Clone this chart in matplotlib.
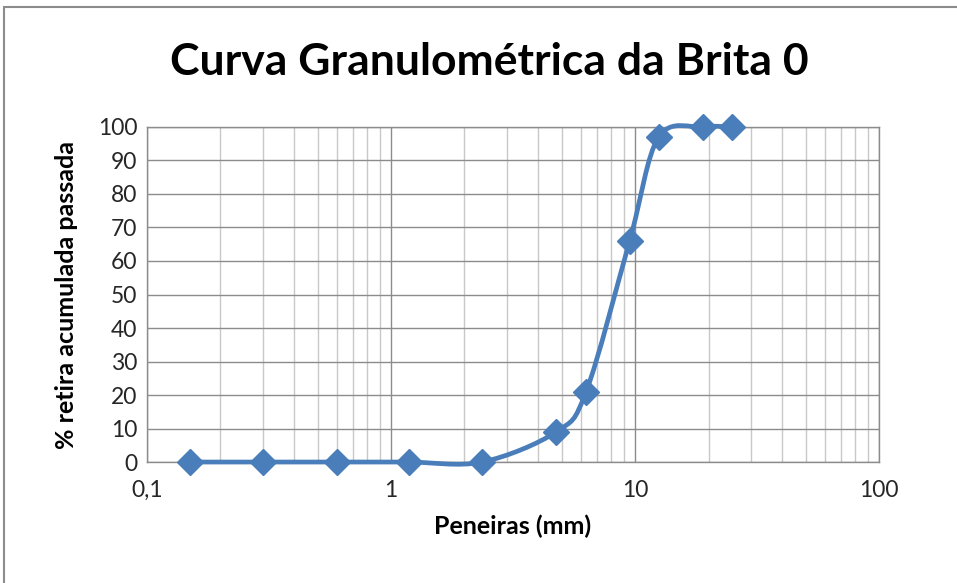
import numpy as np
import matplotlib
matplotlib.use("Agg")
import matplotlib.pyplot as plt
from matplotlib.path import Path
from matplotlib.patches import PathPatch, Rectangle
from matplotlib.ticker import FixedLocator, FixedFormatter, LogLocator, NullFormatter

# --------------------
# Data
# --------------------
peneiras = [0.15, 0.3, 0.6, 1.18, 2.36, 4.75, 6.3, 9.5, 12.5, 19, 25]
passada = [0, 0, 0, 0, 0, 9, 21, 66, 97, 100, 100]
x_ticks = [0.1, 1, 10, 100]
x_labels = ["0,1", "1", "10", "100"]
y_ticks = list(range(0, 101, 10))

plt.rcParams["font.family"] = ["Lato", "DejaVu Sans"]
blue = "#4A7EBB"

fig = plt.figure(figsize=(9.57, 5.83), dpi=100)
ax = fig.add_axes([0.1536, 0.2075, 0.765, 0.5747])

# --------------------
# Smoothed line (Excel style Bezier through the points)
# --------------------
u = np.log10(peneiras)
v = np.array(passada, dtype=float)
pts = np.column_stack([u, v])
verts = [pts[0]]
codes = [Path.MOVETO]
n = len(pts)
for i in range(n - 1):
    p0 = pts[i - 1] if i > 0 else pts[i]
    p1 = pts[i]
    p2 = pts[i + 1]
    p3 = pts[i + 2] if i + 2 < n else pts[i + 1]
    c1 = p1 + (p2 - p0) / 6
    c2 = p2 - (p3 - p1) / 6
    verts += [c1, c2, p2]
    codes += [Path.CURVE4] * 3
verts = np.array(verts)
verts[:, 0] = 10 ** verts[:, 0]
ax.add_patch(PathPatch(Path(verts, codes), facecolor="none", edgecolor=blue,
                       lw=3.4, clip_on=False, zorder=3))

ax.plot(peneiras, passada, linestyle="none", marker="D", markersize=13,
        color=blue, clip_on=False, zorder=4)

# --------------------
# Axes styling
# --------------------
ax.set_xscale("log")
ax.set_xlim(0.1, 100)
ax.set_ylim(0, 100)
ax.xaxis.set_major_locator(FixedLocator(x_ticks))
ax.xaxis.set_major_formatter(FixedFormatter(x_labels))
ax.xaxis.set_minor_locator(LogLocator(base=10, subs=np.arange(2, 10)))
ax.xaxis.set_minor_formatter(NullFormatter())
ax.set_yticks(y_ticks)

ax.grid(True, which="major", color="#8C8C8C", lw=1)
ax.grid(True, which="minor", axis="x", color="#C8C8C8", lw=1)
ax.set_axisbelow(True)
for s in ax.spines.values():
    s.set_color("#8C8C8C")
    s.set_linewidth(1)

ax.tick_params(which="both", length=0, labelsize=16.5, colors="#262626")
ax.tick_params(axis="x", pad=13)
ax.tick_params(axis="y", pad=7)

ax.set_xlabel("Peneiras (mm)", fontsize=18, fontweight="bold", labelpad=10)
ax.set_ylabel("% retira acumulada passada", fontsize=18, fontweight="bold", labelpad=14)
fig.text(0.511, 0.893, "Curva Granulométrica da Brita 0", ha="center", va="center",
         fontsize=32, fontweight="bold")

# chart frame
fig.add_artist(Rectangle((4 / 957, -0.1), 1.2, 1 - 7 / 583 + 0.1,
                         transform=fig.transFigure, fill=False,
                         edgecolor="#8C8C8C", lw=1.5))

fig.savefig("out.png", dpi=100)
